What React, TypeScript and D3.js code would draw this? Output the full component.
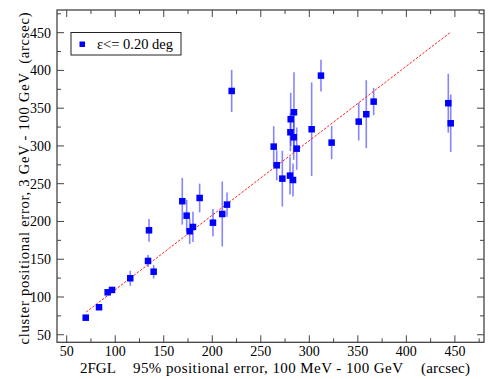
import React, { useRef, useEffect } from "react";
import * as d3 from "d3";

// 2FGL 95% error (x) vs cluster error (y), arcsec
const xValues = [
  69.6, 83.3, 92.2, 96.7, 115.5, 133.8, 134.8, 139.6, 169.1, 173.6, 176.7,
  180.1, 187, 200.7, 210.3, 215.2, 220, 263.3, 266.4, 272.2, 280.1, 280.8,
  280.5, 283.9, 284.2, 287, 283.2, 302.4, 312, 323, 350.9, 358.7, 366.3,
  443.2, 445.7,
];
const yValues = [
  72.6, 86.4, 106.2, 109.3, 124.8, 147.7, 188.3, 133.5, 226.8, 207.7, 187,
  192.7, 231.1, 198.4, 209.9, 222.3, 372.8, 299.1, 274.4, 256.7, 260.7, 335.4,
  318.1, 311.5, 344.6, 296.4, 254.9, 322.1, 393.1, 304.4, 332.2, 342, 358.7,
  356.6, 330,
];
const yErrors = [
  3, 3, 3, 4, 10, 8, 15, 9, 31, 21, 17, 20, 19, 18, 43, 16, 28, 27, 20, 37,
  25, 35, 25, 30, 53, 28, 22, 62, 21, 22, 25, 45, 18, 39, 38,
];
const fitX = [70, 445];
const fitY = [80, 450];
const xTicks = [50, 100, 150, 200, 250, 300, 350, 400, 450];
const yTicks = [50, 100, 150, 200, 250, 300, 350, 400, 450];
const legendLabel = "ε<= 0.20 deg";

const App = () => {
  const ref = useRef<SVGSVGElement>(null);

  useEffect(() => {
    const svg = d3.select(ref.current);
    svg.selectAll("*").remove();

    const left = 57,
      right = 484,
      top = 10,
      bottom = 342.3;
    const font = "'Liberation Serif', 'Times New Roman', serif";
    const axisColor = "#444";

    const x = d3.scaleLinear().domain([40, 480]).range([left, right]);
    const y = d3.scaleLinear().domain([40, 480]).range([bottom, top]);

    const data = xValues.map((d, i) => ({ x: d, y: yValues[i], e: yErrors[i] }));

    // error bars
    svg
      .append("g")
      .selectAll("line")
      .data(data)
      .enter()
      .append("line")
      .attr("x1", (d) => x(d.x))
      .attr("x2", (d) => x(d.x))
      .attr("y1", (d) => y(d.y - d.e))
      .attr("y2", (d) => y(d.y + d.e))
      .attr("stroke", "#3333ff")
      .attr("stroke-opacity", 0.6)
      .attr("stroke-width", 1.6);

    // fit line
    svg
      .append("line")
      .attr("x1", x(fitX[0]))
      .attr("y1", y(fitY[0]))
      .attr("x2", x(fitX[1]))
      .attr("y2", y(fitY[1]))
      .attr("stroke", "#ff2020")
      .attr("stroke-width", 1)
      .attr("stroke-dasharray", "2.5,1.5");

    // markers
    const s = 6.5;
    svg
      .append("g")
      .selectAll("rect")
      .data(data)
      .enter()
      .append("rect")
      .attr("x", (d) => x(d.x) - s / 2)
      .attr("y", (d) => y(d.y) - s / 2)
      .attr("width", s)
      .attr("height", s)
      .attr("fill", "#0000ff");

    // frame
    svg
      .append("rect")
      .attr("x", left)
      .attr("y", top)
      .attr("width", right - left)
      .attr("height", bottom - top)
      .attr("fill", "none")
      .attr("stroke", axisColor)
      .attr("stroke-width", 1.3);

    // ticks, inward on all sides
    const ticks = svg.append("g").attr("stroke", axisColor).attr("stroke-width", 1);
    const minor = d3.range(75, 480, 50);
    const tickSet = [
      ...xTicks.map((v) => ({ v, len: 7 })),
      ...minor.map((v) => ({ v, len: 4 })),
    ];
    tickSet.forEach((t) => {
      ticks.append("line").attr("x1", x(t.v)).attr("x2", x(t.v)).attr("y1", bottom).attr("y2", bottom - t.len);
      ticks.append("line").attr("x1", x(t.v)).attr("x2", x(t.v)).attr("y1", top).attr("y2", top + t.len);
    });
    const ySet = [
      ...yTicks.map((v) => ({ v, len: 7 })),
      ...minor.map((v) => ({ v, len: 4 })),
    ];
    ySet.forEach((t) => {
      ticks.append("line").attr("y1", y(t.v)).attr("y2", y(t.v)).attr("x1", left).attr("x2", left + t.len);
      ticks.append("line").attr("y1", y(t.v)).attr("y2", y(t.v)).attr("x1", right).attr("x2", right - t.len);
    });

    // tick labels
    svg
      .append("g")
      .selectAll("text")
      .data(xTicks)
      .enter()
      .append("text")
      .attr("x", (d) => x(d))
      .attr("y", 356)
      .attr("text-anchor", "middle")
      .style("font-family", font)
      .style("font-size", "14px")
      .text((d) => d);

    svg
      .append("g")
      .selectAll("text")
      .data(yTicks)
      .enter()
      .append("text")
      .attr("x", 51)
      .attr("y", (d) => y(d) + 5)
      .attr("text-anchor", "end")
      .style("font-family", font)
      .style("font-size", "14px")
      .text((d) => d);

    // axis titles
    const xt = svg
      .append("g")
      .style("font-family", font)
      .style("font-size", "15px");
    xt.append("text").attr("x", 80).attr("y", 373).text("2FGL");
    xt.append("text")
      .attr("x", 133)
      .attr("y", 373)
      .attr("textLength", 270)
      .attr("lengthAdjust", "spacing")
      .text("95% positional error, 100 MeV - 100 GeV");
    xt.append("text")
      .attr("x", 421)
      .attr("y", 373)
      .attr("textLength", 49)
      .attr("lengthAdjust", "spacing")
      .text("(arcsec)");

    svg
      .append("text")
      .attr("transform", "translate(29,178.5) rotate(-90)")
      .attr("text-anchor", "middle")
      .attr("xml:space", "preserve")
      .attr("textLength", 332)
      .attr("lengthAdjust", "spacing")
      .style("white-space", "pre")
      .style("font-family", font)
      .style("font-size", "14.5px")
      .text("cluster positional error, 3 GeV - 100 GeV  (arcsec)");

    // legend
    const lg = svg.append("g");
    lg.append("rect")
      .attr("x", 71)
      .attr("y", 32.5)
      .attr("width", 110)
      .attr("height", 22.5)
      .attr("fill", "white")
      .attr("stroke", "#222")
      .attr("stroke-width", 1);
    lg.append("rect")
      .attr("x", 79.5)
      .attr("y", 41.5)
      .attr("width", 5.5)
      .attr("height", 5.5)
      .attr("fill", "#0000ff");
    lg.append("text")
      .attr("x", 97)
      .attr("y", 49)
      .style("font-family", font)
      .style("font-size", "14.5px")
      .text(legendLabel);
  }, []);

  return (
    <svg
      ref={ref}
      width={491}
      height={379}
      style={{ position: "absolute", left: 0, top: 0, background: "white" }}
    ></svg>
  );
};

export default App;
